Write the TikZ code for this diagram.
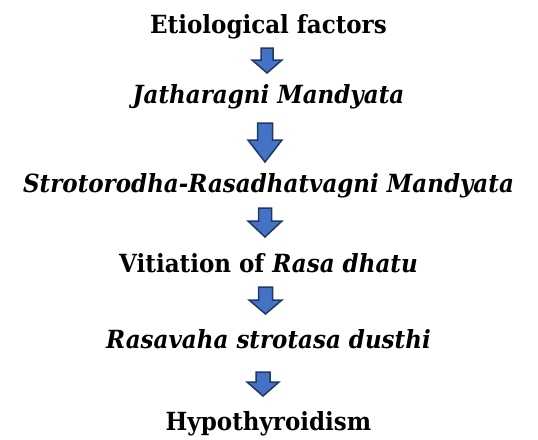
\documentclass[tikz,border=0pt]{standalone}
\usepackage{fontspec}
\setmainfont[FakeStretch=0.92]{DejaVu Serif}
\begin{document}
\begin{tikzpicture}[x=1pt,y=-1pt,
  lbl/.style={anchor=base,inner sep=0pt,font=\fontsize{25}{28}\selectfont\bfseries},
  blockarrow/.style={fill=arrowfill,draw=arrowdraw,line width=1.5pt,line join=miter}]
\definecolor{arrowfill}{HTML}{4472C4}
\definecolor{arrowdraw}{HTML}{203864}
\useasboundingbox (0,0) rectangle (538,439);
% text nodes
\node[lbl] (n1) at (268.5,33) {Etiological factors};
\node[lbl] (n2) at (268.5,103) {\itshape Jatharagni Mandyata};
\node[lbl] (n3) at (268.5,192) {\itshape Strotorodha-Rasadhatvagni Mandyata};
\node[lbl] (n4) at (268.5,272) {Vitiation of \textit{Rasa dhatu}};
\node[lbl] (n5) at (268.5,348) {\itshape Rasavaha strotasa dusthi};
\node[lbl] (n6) at (268.5,430) {Hypothyroidism};
% block arrows: #1 name, #2 centre x, #3 top, #4 tip, #5 half head width, #6 half shaft width, #7 head start
\newcommand\downblock[7]{%
  \draw[blockarrow] (#2-#6,#3) -- (#2+#6,#3) -- (#2+#6,#7) -- (#2+#5,#7) -- (#2,#4) -- (#2-#5,#7) -- (#2-#6,#7) -- cycle;
  \coordinate (#1) at (#2,#3);}
\downblock{a1}{267}{48}{73}{15}{6}{60}
\downblock{a2}{265}{123}{162}{17}{7.5}{140}
\downblock{a3}{265}{208}{237}{17}{6.5}{221}
\downblock{a4}{265.5}{287}{314}{16.5}{7}{300}
\downblock{a5}{263}{372}{396}{16}{7}{382}
\end{tikzpicture}
\end{document}
